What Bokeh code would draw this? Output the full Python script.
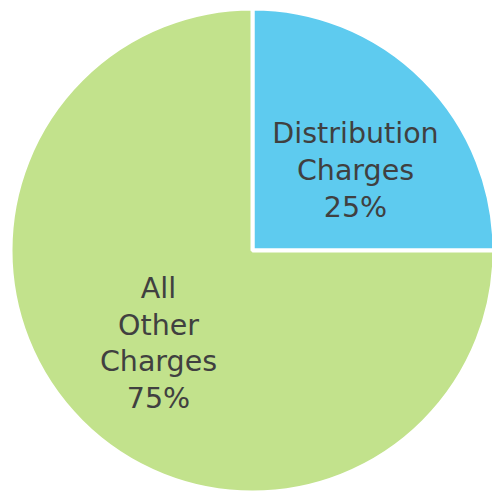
import math
from bokeh.plotting import figure
from bokeh.models import ColumnDataSource
from bokeh.core.properties import value
from bokeh.embed import file_html
from bokeh.resources import INLINE

# data
categories = ["Distribution\nCharges", "All\nOther\nCharges"]
values = [25, 75]
colors = ["#5ECBEF", "#C2E28C"]

W, H = 492, 494
cx, cy, R = 252, 244, 242

total = sum(values)
starts, ends, labels = [], [], []
acc = 0.0
for v in values:
    a0 = math.pi / 2 - 2 * math.pi * acc / total
    acc += v
    a1 = math.pi / 2 - 2 * math.pi * acc / total
    starts.append(a1)
    ends.append(a0)
for c, v in zip(categories, values):
    labels.append(f"{c}\n{round(100 * v / total)}%")

# label anchor positions (layout)
label_x = [cx + 103, cx - 94]
label_y = [cy + 80, cy - 93]

src = ColumnDataSource(dict(start=starts, end=ends, color=colors,
                            label=labels, lx=label_x, ly=label_y))

p = figure(width=W, height=H, x_range=(0, W), y_range=(0, H),
           output_backend="svg", toolbar_location=None,
           min_border=0, outline_line_color=None, background_fill_color="white")
p.axis.visible = False
p.grid.visible = False

p.wedge(x=cx, y=cy, radius=R, start_angle="start", end_angle="end",
        fill_color="color", line_color="white", line_width=4, source=src)

p.text(x="lx", y="ly", text="label", source=src,
       text_font=value("DejaVu Sans"), text_font_size="28.5px",
       text_color="#404040", text_align="center", text_baseline="middle",
       text_line_height=1.11)

open("out.html", "w").write(file_html(p, INLINE))
